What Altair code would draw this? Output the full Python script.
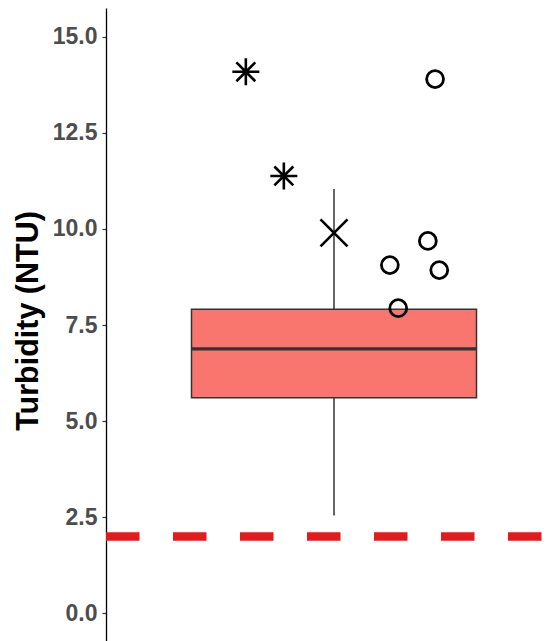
import altair as alt
import pandas as pd

# Box-plot summary (Turbidity, NTU)
box_lower = [2.545]
box_q1 = [5.61]
box_median = [6.88]
box_q3 = [7.91]
box_upper = [11.04]

# Individual (jittered) points
pt_x = [0.768, 0.868, 1.0, 1.266, 1.247, 1.147, 1.277, 1.169]
pt_y = [14.09, 11.38, 9.90, 13.90, 9.69, 9.06, 8.93, 7.94]
pt_group = ["star", "star", "x", "circle", "circle", "circle", "circle", "circle"]

# Reference (threshold) line
threshold = [2.0]

y_ticks = [0.0, 2.5, 5.0, 7.5, 10.0, 12.5, 15.0]

PX_PER_UNIT_X = 380.0
PLOT_W = 440
PLOT_H = 633
x_dom = [0.4, 0.4 + PLOT_W / PX_PER_UNIT_X]
y_dom = [-0.72, 15.75]

xs = alt.Scale(domain=x_dom, nice=False, zero=False)
ys = alt.Scale(domain=y_dom, nice=False, zero=False)

box_df = pd.DataFrame({
    "x": [1.0], "x0": [0.625], "x1": [1.375],
    "lower": box_lower, "q1": box_q1, "median": box_median,
    "q3": box_q3, "upper": box_upper,
})
pts_df = pd.DataFrame({"x": pt_x, "y": pt_y, "g": pt_group})
thr_df = pd.DataFrame({"y": threshold})

yaxis = alt.Axis(
    values=y_ticks, format=".1f", title="Turbidity (NTU)", grid=False,
    domainColor="black", domainWidth=1.3, tickColor="#333333", tickWidth=1.2,
    tickSize=4, labelPadding=5, labelFont="Liberation Sans", labelFontWeight="bold",
    labelFontSize=23, labelColor="#4D4D4D", titleFont="Liberation Sans",
    titleFontWeight="bold", titleFontSize=30.5, titleColor="black",
    titleAngle=-90, titleBaseline="alphabetic", titleAlign="center",
    titleX=-69, titleY=PLOT_H / 2 - 4,
)

base_box = alt.Chart(box_df)

whisker = base_box.mark_rule(color="#333333", strokeWidth=1.5).encode(
    x=alt.X("x:Q", scale=xs, axis=None),
    y=alt.Y("lower:Q", scale=ys, axis=yaxis),
    y2="upper:Q",
)

box = base_box.mark_rect(fill="#F8766D", stroke="#333333", strokeWidth=1.5).encode(
    x=alt.X("x0:Q", scale=xs, axis=None), x2="x1:Q",
    y=alt.Y("q1:Q", scale=ys), y2="q3:Q",
)

median = base_box.mark_rule(color="#333333", strokeWidth=3.2).encode(
    x=alt.X("x0:Q", scale=xs, axis=None), x2="x1:Q",
    y=alt.Y("median:Q", scale=ys),
)

hline = alt.Chart(thr_df).mark_rule(
    color="#E41A1C", strokeWidth=8.5, strokeDash=[33.5, 33.5]
).encode(
    y=alt.Y("y:Q", scale=ys),
    x=alt.value(0), x2=alt.value(PLOT_W),
)

star_path = "M0,-1L0,1M-1,0L1,0M-0.7,-0.7L0.7,0.7M-0.7,0.7L0.7,-0.7"
x_path = "M-1,-1L1,1M-1,1L1,-1"


def pts_layer(group, shape, size, sw):
    return alt.Chart(pts_df).transform_filter(
        alt.datum.g == group
    ).mark_point(
        filled=False, color="black", strokeWidth=sw, opacity=1,
        shape=shape, size=size,
    ).encode(
        x=alt.X("x:Q", scale=xs, axis=None),
        y=alt.Y("y:Q", scale=ys),
    )


points_star = pts_layer("star", star_path, 729, 2.6)
points_x = pts_layer("x", x_path, 729, 2.6)
points_circle = pts_layer("circle", "circle", 285, 2.8)

chart = alt.layer(whisker, box, median, hline, points_star, points_x, points_circle).properties(
    width=PLOT_W, height=PLOT_H,
    autosize=alt.AutoSizeParams(type="none"),
    padding={"left": 98, "top": 0, "right": 0, "bottom": 0},
).configure_view(stroke=None)

chart.save("out.html", embed_options={"renderer": "svg", "actions": False})
